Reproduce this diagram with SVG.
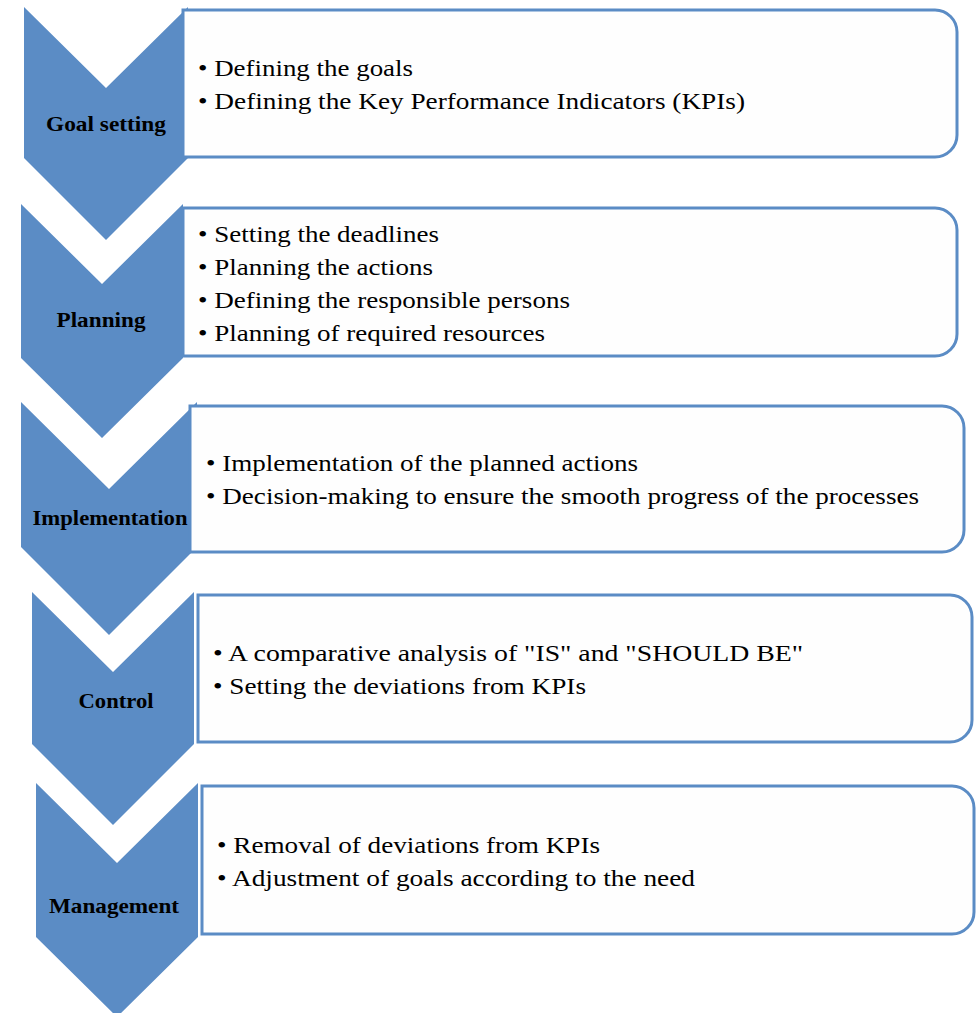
<svg xmlns="http://www.w3.org/2000/svg" width="978" height="1013" viewBox="0 0 978 1013">
  <style>
    .chev { fill: #5b8cc5; }
    .box { fill: #fefefe; stroke: #5b8cc5; stroke-width: 3; }
    .stage { font-family: Liberation Serif, serif; font-weight: bold; font-size: 21px; fill: #000; text-anchor: middle; }
    .item { font-family: Liberation Serif, serif; font-size: 24px; fill: #000; }
  </style>
  <rect width="978" height="1013" fill="#ffffff"/>

  <!-- Stage 1 -->
  <g id="goal-setting">
    <polygon class="chev" points="24,7 106,88 188,7 188,158 106,240 24,158"/>
    <path class="box" d="M183,10 H935 A22,22 0 0 1 957,32 V135 A22,22 0 0 1 935,157 H183 Z"/>
    <text class="stage" x="106" y="131" textLength="120" lengthAdjust="spacingAndGlyphs">Goal setting</text>
    <text class="item" x="198" y="76" textLength="215" lengthAdjust="spacingAndGlyphs">• Defining the goals</text>
    <text class="item" x="198" y="109" textLength="547" lengthAdjust="spacingAndGlyphs">• Defining the Key Performance Indicators (KPIs)</text>
  </g>

  <!-- Stage 2 -->
  <g id="planning">
    <polygon class="chev" points="21,204 102,284 183,204 183,358 102,438 21,358"/>
    <path class="box" d="M183,208 H935 A22,22 0 0 1 957,230 V334 A22,22 0 0 1 935,356 H183 Z"/>
    <text class="stage" x="101" y="327" textLength="89" lengthAdjust="spacingAndGlyphs">Planning</text>
    <text class="item" x="198" y="242" textLength="241" lengthAdjust="spacingAndGlyphs">• Setting the deadlines</text>
    <text class="item" x="198" y="275" textLength="235" lengthAdjust="spacingAndGlyphs">• Planning the actions</text>
    <text class="item" x="198" y="308" textLength="372" lengthAdjust="spacingAndGlyphs">• Defining the responsible persons</text>
    <text class="item" x="198" y="341" textLength="347" lengthAdjust="spacingAndGlyphs">• Planning of required resources</text>
  </g>

  <!-- Stage 3 -->
  <g id="implementation">
    <polygon class="chev" points="21,402 109,489 197,402 197,547 109,635 21,547"/>
    <path class="box" d="M190,406 H942 A22,22 0 0 1 964,428 V530 A22,22 0 0 1 942,552 H190 Z"/>
    <text class="stage" x="110" y="525" textLength="155" lengthAdjust="spacingAndGlyphs">Implementation</text>
    <text class="item" x="206" y="471" textLength="432" lengthAdjust="spacingAndGlyphs">• Implementation of the planned actions</text>
    <text class="item" x="206" y="504" textLength="713" lengthAdjust="spacingAndGlyphs">• Decision-making to ensure the smooth progress of the processes</text>
  </g>

  <!-- Stage 4 -->
  <g id="control">
    <polygon class="chev" points="32,592 113,672 194,592 194,744 113,825 32,744"/>
    <path class="box" d="M198,595 H950 A22,22 0 0 1 972,617 V720 A22,22 0 0 1 950,742 H198 Z"/>
    <text class="stage" x="116" y="708" textLength="75" lengthAdjust="spacingAndGlyphs">Control</text>
    <text class="item" x="213" y="661" textLength="590" lengthAdjust="spacingAndGlyphs">• A comparative analysis of "IS" and "SHOULD BE"</text>
    <text class="item" x="213" y="694" textLength="373" lengthAdjust="spacingAndGlyphs">• Setting the deviations from KPIs</text>
  </g>

  <!-- Stage 5 -->
  <g id="management">
    <polygon class="chev" points="36,783 117,863 198,783 198,937 117,1017 36,937"/>
    <path class="box" d="M202,786 H952 A22,22 0 0 1 974,808 V912 A22,22 0 0 1 952,934 H202 Z"/>
    <text class="stage" x="114" y="913" textLength="130" lengthAdjust="spacingAndGlyphs">Management</text>
    <text class="item" x="217" y="853" textLength="383" lengthAdjust="spacingAndGlyphs">• Removal of deviations from KPIs</text>
    <text class="item" x="217" y="886" textLength="478" lengthAdjust="spacingAndGlyphs">• Adjustment of goals according to the need</text>
  </g>

  <!-- stages are linked by their chevron shapes; no separate connectors -->
  <g id="connectors"/>
</svg>
